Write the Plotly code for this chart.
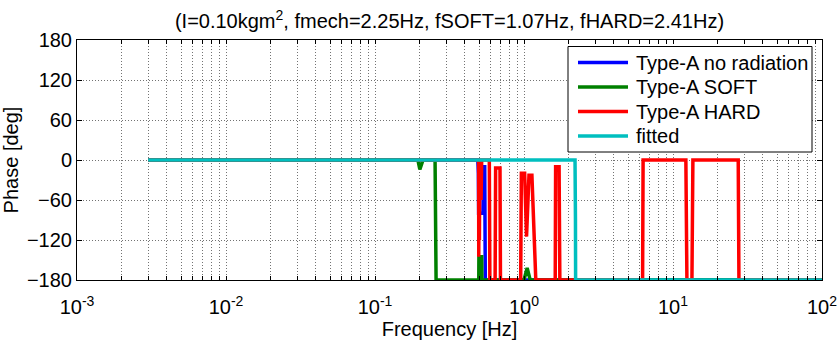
import plotly.graph_objects as go

# ---------------- data ----------------
blue_f = [0.003, 0.49, 0.494, 0.496, 0.53, 0.535, 0.545, 0.55, 100]
blue_p = [0, 0, -20, -80, -80, -10, -10, -180, -180]

green_f = [0.003, 0.194, 0.20, 0.21, 0.253, 0.257, 0.497, 0.498, 0.52, 0.522,
           1.0, 1.05, 1.1, 100]
green_p = [0, 0, -14, 0, 0, -180, -180, -145, -145, -180,
           -180, -162, -180, -180]

red_f = [0.003, 0.496, 0.497, 0.499, 0.502, 0.505, 0.515, 0.52, 0.585, 0.59,
         0.64, 0.645, 0.69, 0.695, 0.95, 0.96, 1.01, 1.04, 1.08, 1.13, 1.2,
         1.62, 1.63, 1.72, 1.74, 6.25, 6.3, 12.2, 12.4, 13.4, 13.6, 27.4,
         27.7, 100]
red_p = [0, 0, -145, -20, -120, 0, -60, 0, 0, -180,
         -180, -12, -12, -180, -180, -20, -20, -115, -23, -23, -180,
         -180, -10, -10, -180, -180, 0, 0, -180, -180, 0, 0,
         -180, -180]

fit_f = [0.003, 2.2, 2.215, 2.22, 100]
fit_p = [0, 0, -90, -180, -180]

series_names = ["Type-A no radiation", "Type-A SOFT", "Type-A HARD", "fitted"]
series_colors = ["#0000ff", "#008000", "#ff0000", "#00bfbf"]

yticks = [-180, -120, -60, 0, 60, 120, 180]
decades = [-3, -2, -1, 0, 1, 2]

title_text = "(I=0.10kgm<sup>2</sup>, fmech=2.25Hz, fSOFT=1.07Hz, fHARD=2.41Hz)"
xlabel = "Frequency [Hz]"
ylabel = "Phase [deg]"

# ---------------- layout constants ----------------
W, H = 838, 341
L, R, T, B = 77, 16, 40, 61
PW, PH = W - L - R, H - T - B
FONT = "Liberation Sans, Arial, sans-serif"
FS = 20


def px_x(px):
    return (px - L) / PW


def px_y(py):
    return (H - B - py) / PH


fig = go.Figure()
for f, p, name, col in zip([blue_f, green_f, red_f, fit_f],
                           [blue_p, green_p, red_p, fit_p],
                           series_names, series_colors):
    fig.add_trace(go.Scatter(x=f, y=p, mode="lines", name=name,
                             line=dict(color=col, width=3.5, simplify=False),
                             showlegend=False))

# legend box drawn as shapes + text (to match the compact original legend)
shapes = [dict(type="rect", xref="paper", yref="paper",
               x0=px_x(568), x1=px_x(812), y0=px_y(152), y1=px_y(46.5),
               line=dict(color="black", width=1), fillcolor="white", layer="above")]
annotations = []
row_y = [62.5, 87, 111.5, 136]
for name, col, ry in zip(series_names, series_colors, row_y):
    shapes.append(dict(type="line", xref="paper", yref="paper",
                       x0=px_x(578), x1=px_x(628), y0=px_y(ry), y1=px_y(ry),
                       line=dict(color=col, width=3.5), layer="above"))
    annotations.append(dict(text=name, xref="paper", yref="paper",
                            x=px_x(634), y=px_y(ry), xanchor="left", yanchor="middle",
                            showarrow=False,
                            font=dict(family=FONT, size=FS, color="black")))

xtickvals, xticktext = [], []
for d in decades:
    if d == decades[-1]:
        xtickvals.append(10.0 ** d)
        xticktext.append(f"10<sup>{d}</sup>")
        break
    for m in range(1, 10):
        xtickvals.append(m * 10.0 ** d)
        xticktext.append(f"10<sup>{d}</sup>" if m == 1 else "")

grid_col = "rgba(0,0,0,0.55)"

fig.update_layout(
    width=W, height=H,
    margin=dict(l=L, r=R, t=T, b=B, autoexpand=False),
    paper_bgcolor="white", plot_bgcolor="white",
    font=dict(family=FONT, size=FS, color="black"),
    title=dict(text=title_text, x=(L + W - R) / 2 / W, xanchor="center",
               y=1 - 21 / H, yanchor="middle",
               font=dict(family=FONT, size=FS, color="black")),
    showlegend=False,
    shapes=shapes,
    annotations=annotations,
)

fig.update_xaxes(
    type="log", range=[-3, 2], automargin=False,
    tickmode="array", tickvals=xtickvals, ticktext=xticktext,
    ticks="inside", ticklen=4, tickcolor="black", tickwidth=1,
    showline=True, linecolor="black", linewidth=1, mirror="allticks",
    showgrid=True, gridcolor=grid_col, griddash="1px,2px", gridwidth=1,
    zeroline=False, ticklabelstandoff=9,
    title=dict(text=xlabel, standoff=2, font=dict(family=FONT, size=FS)),
    tickfont=dict(family=FONT, size=FS),
)
fig.update_yaxes(
    range=[-180, 180], automargin=False,
    tickmode="array", tickvals=yticks,
    ticks="inside", ticklen=5, tickcolor="black", tickwidth=1,
    showline=True, linecolor="black", linewidth=1, mirror="allticks",
    showgrid=True, gridcolor=grid_col, griddash="1px,2px", gridwidth=1,
    zeroline=False,
    title=dict(text=ylabel, standoff=3, font=dict(family=FONT, size=FS)),
    tickfont=dict(family=FONT, size=FS),
)

fig.write_html("out.html")
